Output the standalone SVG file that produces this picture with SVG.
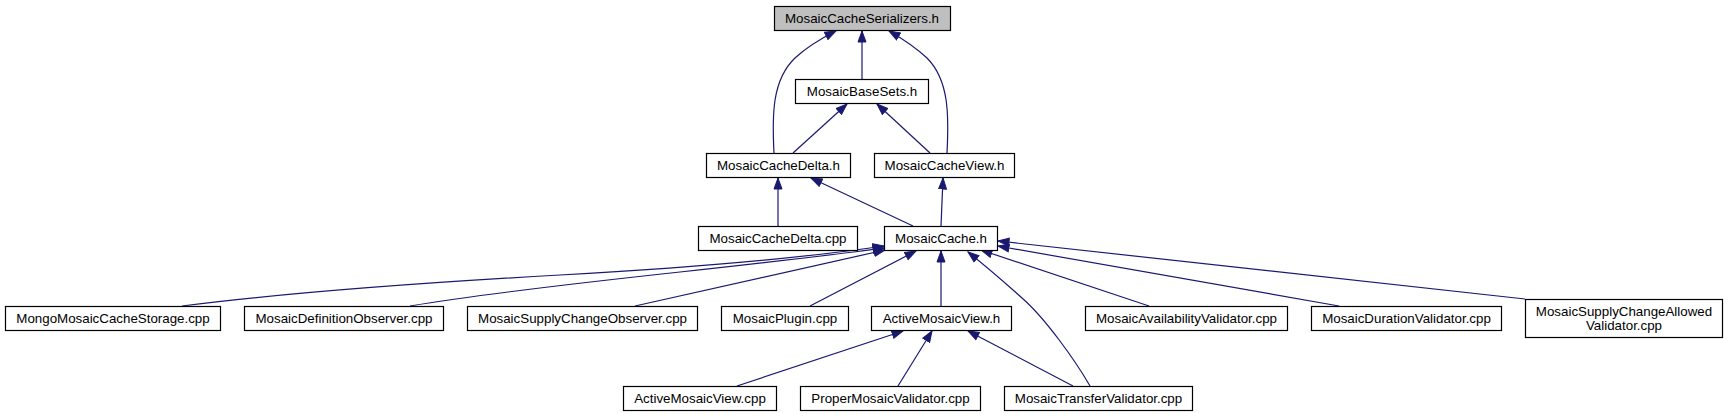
<svg xmlns="http://www.w3.org/2000/svg" width="1728" height="416" viewBox="0 0 1728 416">
<style>
.n rect{fill:#ffffff;stroke:#000000;stroke-width:1.2}
.n.root rect{fill:#bfbfbf}
.n text{font-family:"Liberation Sans",Arial,Helvetica,sans-serif;font-size:13.33px;fill:#000000;text-anchor:middle}
.e path{fill:none;stroke:#191970;stroke-width:1.2;marker-end:url(#ah)}
</style>
<defs>
<marker id="ah" markerWidth="13" markerHeight="10" refX="11.5" refY="5" orient="auto" markerUnits="userSpaceOnUse" viewBox="0 0 13 10">
<path d="M0.5,1 L11.5,5 L0.5,9 z" fill="#191970" stroke="#191970" stroke-width="1"/>
</marker>
</defs>
<rect width="1728" height="416" fill="#ffffff"/>
<g id="edges" class="e">
<path d="M774,153 C772,115 772,80 795,58 C808,46 820,39 836,31"/>
<path d="M862,79 L862,31"/>
<path d="M947,153 C949,115 949,80 927,58 C914,46 903,39 889,31"/>
<path d="M793,153 L847,104"/>
<path d="M930,153 L877,104"/>
<path d="M778,226 L778,178"/>
<path d="M913,226 L811,178"/>
<path d="M941,226 L943,178"/>
<path d="M182,306 C260,296 400,284 560,275 C720,266 830,254 884,246"/>
<path d="M410,306 C470,296 560,285 680,272 C780,261 840,254 884,248"/>
<path d="M635,306 L885,250"/>
<path d="M810,306 L916,251"/>
<path d="M941,306 L941,251"/>
<path d="M1090,386 C1075,360 1045,318 1022,298 C1002,280 988,268 968,252"/>
<path d="M1149,306 L981,250"/>
<path d="M1339,306 L998,246"/>
<path d="M1525,299 C1400,284 1200,262 998,241"/>
<path d="M737,386 L903,331"/>
<path d="M898,386 L932,331"/>
<path d="M1073,386 L968,331"/>
</g>
<g id="n_serializers" class="n root"><rect x="774.5" y="6.5" width="176" height="24"/><text x="862" y="22.5">MosaicCacheSerializers.h</text></g>
<g id="n_basesets" class="n"><rect x="795.5" y="79.5" width="133" height="24"/><text x="862" y="95.5">MosaicBaseSets.h</text></g>
<g id="n_deltah" class="n"><rect x="706.5" y="153.5" width="144" height="24"/><text x="778.5" y="169.5">MosaicCacheDelta.h</text></g>
<g id="n_viewh" class="n"><rect x="874.5" y="153.5" width="140" height="24"/><text x="944.5" y="169.5">MosaicCacheView.h</text></g>
<g id="n_deltacpp" class="n"><rect x="698.5" y="226.5" width="159" height="24"/><text x="778" y="242.5">MosaicCacheDelta.cpp</text></g>
<g id="n_cacheh" class="n"><rect x="884.5" y="226.5" width="113" height="24"/><text x="941" y="242.5">MosaicCache.h</text></g>
<g id="n_mongo" class="n"><rect x="5.5" y="306.5" width="215" height="24"/><text x="113" y="322.5">MongoMosaicCacheStorage.cpp</text></g>
<g id="n_defobs" class="n"><rect x="244.5" y="306.5" width="199" height="24"/><text x="344" y="322.5">MosaicDefinitionObserver.cpp</text></g>
<g id="n_supobs" class="n"><rect x="467.5" y="306.5" width="230" height="24"/><text x="582.5" y="322.5">MosaicSupplyChangeObserver.cpp</text></g>
<g id="n_plugin" class="n"><rect x="721.5" y="306.5" width="127" height="24"/><text x="785" y="322.5">MosaicPlugin.cpp</text></g>
<g id="n_activeh" class="n"><rect x="871.5" y="306.5" width="140" height="24"/><text x="941.5" y="322.5">ActiveMosaicView.h</text></g>
<g id="n_avail" class="n"><rect x="1085.5" y="306.5" width="202" height="24"/><text x="1186.5" y="322.5">MosaicAvailabilityValidator.cpp</text></g>
<g id="n_duration" class="n"><rect x="1311.5" y="306.5" width="190" height="24"/><text x="1406.5" y="322.5">MosaicDurationValidator.cpp</text></g>
<g id="n_supallowed" class="n"><rect x="1525.5" y="299.5" width="197" height="38"/><text x="1624" y="315.5">MosaicSupplyChangeAllowed</text><text x="1624" y="329.5">Validator.cpp</text></g>
<g id="n_activecpp" class="n"><rect x="623.5" y="386.5" width="153" height="24"/><text x="700" y="402.5">ActiveMosaicView.cpp</text></g>
<g id="n_proper" class="n"><rect x="800.5" y="386.5" width="180" height="24"/><text x="890.5" y="402.5">ProperMosaicValidator.cpp</text></g>
<g id="n_transfer" class="n"><rect x="1004.5" y="386.5" width="188" height="24"/><text x="1098.5" y="402.5">MosaicTransferValidator.cpp</text></g>
</svg>
